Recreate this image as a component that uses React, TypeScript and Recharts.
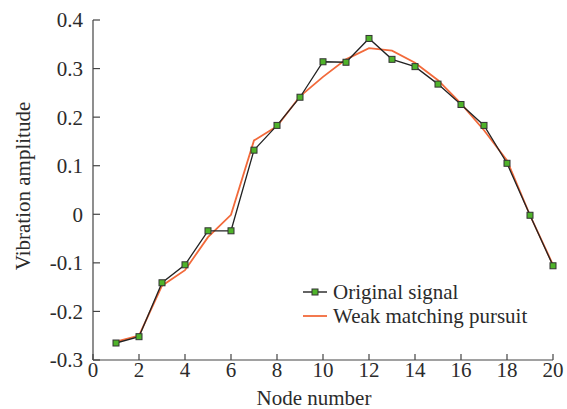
import React from 'react';
import { LineChart, Line, XAxis, YAxis } from 'recharts';

const nodes = [1, 2, 3, 4, 5, 6, 7, 8, 9, 10, 11, 12, 13, 14, 15, 16, 17, 18, 19, 20];
const originalSignal = [-0.265, -0.252, -0.141, -0.104, -0.034, -0.034, 0.132, 0.183, 0.241, 0.314, 0.313, 0.362, 0.319, 0.304, 0.268, 0.226, 0.183, 0.105, -0.002, -0.106];
const weakMatching = [-0.262, -0.25, -0.147, -0.115, -0.047, -0.001, 0.152, 0.181, 0.243, 0.283, 0.319, 0.342, 0.337, 0.312, 0.276, 0.228, 0.173, 0.111, -0.002, -0.104];
const xTicks = [0, 2, 4, 6, 8, 10, 12, 14, 16, 18, 20];
const yTicks = [-0.3, -0.2, -0.1, 0, 0.1, 0.2, 0.3, 0.4];
const seriesNames = ['Original signal', 'Weak matching pursuit'];

const data = nodes.map((n, i) => ({ node: n, original: originalSignal[i], wmp: weakMatching[i] }));

const FONT = '"Liberation Serif", "Times New Roman", serif';
const TEXT = '#2b2b2b';
const AXIS = '#444';
const ORANGE = '#f26a3b';
const GREEN = '#4fb32a';

const SquareDot = (props: any) => {
  const { cx, cy } = props;
  if (cx == null || cy == null) return null;
  return <rect x={cx - 3} y={cy - 3} width={6} height={6} fill={GREEN} stroke="#333" strokeWidth={1} />;
};

const LegendBox = () => (
  <svg width={260} height={56} style={{ position: 'absolute', left: 302, top: 280, overflow: 'visible' }}>
    <line x1={1} y1={12} x2={25} y2={12} stroke="#222" strokeWidth={1.4} />
    <rect x={10} y={9} width={6} height={6} fill={GREEN} stroke="#333" strokeWidth={1} />
    <text x={31} y={19} fontFamily={FONT} fontSize={21} fill={TEXT}>{seriesNames[0]}</text>
    <line x1={1} y1={36} x2={25} y2={36} stroke={ORANGE} strokeWidth={1.8} />
    <text x={31} y={43} fontFamily={FONT} fontSize={21} fill={TEXT}>{seriesNames[1]}</text>
  </svg>
);

export default function App() {
  return (
    <div style={{ position: 'absolute', left: 0, top: 0, width: 567, height: 409, background: '#fff' }}>
      <LineChart width={567} height={409} data={data} margin={{ top: 20, right: 14, left: 0, bottom: 0 }}>
        <XAxis
          dataKey="node"
          type="number"
          domain={[0, 20]}
          ticks={xTicks}
          height={49}
          axisLine={{ stroke: AXIS, strokeWidth: 1.2 }}
          tickLine={{ stroke: AXIS, strokeWidth: 1.2 }}
          tickSize={-6}
          tickMargin={8}
          tick={{ fontFamily: FONT, fontSize: 21, fill: TEXT }}
          label={{ value: 'Node number', position: 'insideBottom', offset: 4, dx: -9, fontFamily: FONT, fontSize: 21, fill: TEXT }}
        />
        <YAxis
          type="number"
          domain={[-0.3, 0.4]}
          ticks={yTicks}
          width={93}
          allowDataOverflow
          axisLine={{ stroke: AXIS, strokeWidth: 1.2 }}
          tickLine={{ stroke: AXIS, strokeWidth: 1.2 }}
          tickSize={-7}
          tickMargin={17}
          tickFormatter={(v: number) => String(Math.round(v * 10) / 10)}
          tick={{ fontFamily: FONT, fontSize: 21, fill: TEXT }}
          label={{ value: 'Vibration amplitude', angle: -90, position: 'center', dx: -24, dy: -4, fontFamily: FONT, fontSize: 21, fill: TEXT }}
        />
        <Line dataKey="wmp" name={seriesNames[1]} stroke={ORANGE} strokeWidth={1.8} dot={false} isAnimationActive={false} />
        <Line dataKey="original" name={seriesNames[0]} stroke="#222" strokeWidth={1.3} dot={<SquareDot />} isAnimationActive={false} />
      </LineChart>
      <LegendBox />
    </div>
  );
}
